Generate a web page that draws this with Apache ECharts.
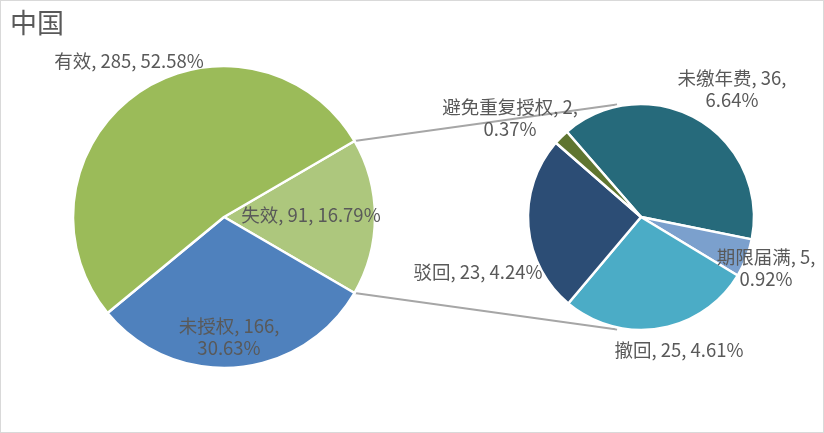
<!DOCTYPE html>
<html><head><meta charset="utf-8">
<script src="https://cdn.jsdelivr.net/npm/echarts@6/dist/echarts.min.js"></script>
<style>html,body{margin:0;padding:0;background:#fff}#c{width:822px;height:431px;border:1px solid #D9D9D9}</style>
</head><body><div id="c"></div>
<script>
// ---- data ----
var mainNames = ['失效', '未授权', '有效'];
var mainValues = [91, 166, 285];
var subNames = ['未缴年费', '期限届满', '撤回', '驳回', '避免重复授权'];
var subValues = [36, 5, 25, 23, 2];
var title = '中国';

// ---- styling / layout ----
var mainColors = ['#ADC77D', '#4F81BD', '#9BBB59'];
var subColors = ['#266A7B', '#7BA0CD', '#4BACC6', '#2C4D75', '#5F7530'];
var txt = '#595959';
var font = '"Microsoft YaHei","Noto Sans CJK SC",sans-serif';
var C1 = [223, 216], R1 = 151;
var C2 = [640, 216], R2 = 113;
var mainStart = 180 * mainValues[0] / mainValues.reduce(function(a,b){return a+b;}, 0);
var subStart = 131;
var mainLabelPos = [[310, 214], [228, 336], [128, 60]];
var subLabelPos = [[731, 88], [765, 267], [678, 349], [477, 271], [509, 117]];

var total = mainValues.reduce(function(a,b){return a+b;}, 0);
function pct(v){ return (v / total * 100).toFixed(2) + '%'; }
var mainWrap = {1: true};
var subWrap = {0: true, 1: true, 4: true};

var chart = echarts.init(document.getElementById('c'));
function rad(a){ return a * Math.PI / 180; }
function pt(c, r, a){ return [c[0] + r * Math.cos(rad(a)), c[1] - r * Math.sin(rad(a))]; }
var pA = pt(C1, R1, mainStart), pB = pt(C1, R1, mainStart - 360 * mainValues[0] / total);
var qA = pt(C2, R2 + 2, 102), qB = pt(C2, R2 + 2, -102);

function lbl(wrap){
  return { show: true, position: 'inside', color: txt, fontFamily: font, fontSize: 18.5, lineHeight: 22, align: 'center', overflow: 'none',
    formatter: function(p){ return p.name + ', ' + p.value + ',' + (wrap[p.dataIndex] ? '\n' : ' ') + pct(p.value); } };
}

chart.setOption({
  animation: false,
  title: { text: title, left: 4, top: 3, textStyle: { fontFamily: font, fontSize: 27, fontWeight: 'normal', color: txt } },
  graphic: [
    { type: 'line', shape: { x1: pA[0], y1: pA[1], x2: qA[0], y2: qA[1] }, style: { stroke: '#A6A6A6', lineWidth: 2 }, z: 0 },
    { type: 'line', shape: { x1: pB[0], y1: pB[1], x2: qB[0], y2: qB[1] }, style: { stroke: '#A6A6A6', lineWidth: 2 }, z: 0 }
  ],
  series: [
    {
      type: 'pie', center: C1, radius: R1, startAngle: mainStart, clockwise: true,
      data: mainNames.map(function(n, i){ return { name: n, value: mainValues[i], itemStyle: { color: mainColors[i] } }; }),
      itemStyle: { borderColor: '#fff', borderWidth: 2.5 },
      label: lbl(mainWrap),
      labelLine: { show: false },
      labelLayout: function(p){ var q = mainLabelPos[p.dataIndex]; return { x: q[0], y: q[1], align: 'center', verticalAlign: 'middle' }; },
      emphasis: { disabled: true }
    },
    {
      type: 'pie', center: C2, radius: R2, startAngle: subStart, clockwise: true,
      data: subNames.map(function(n, i){ return { name: n, value: subValues[i], itemStyle: { color: subColors[i] } }; }),
      itemStyle: { borderColor: '#fff', borderWidth: 2.5 },
      label: lbl(subWrap),
      labelLine: { show: false },
      labelLayout: function(p){ var q = subLabelPos[p.dataIndex]; return { x: q[0], y: q[1], align: 'center', verticalAlign: 'middle' }; },
      emphasis: { disabled: true }
    }
  ]
});
</script></body></html>
